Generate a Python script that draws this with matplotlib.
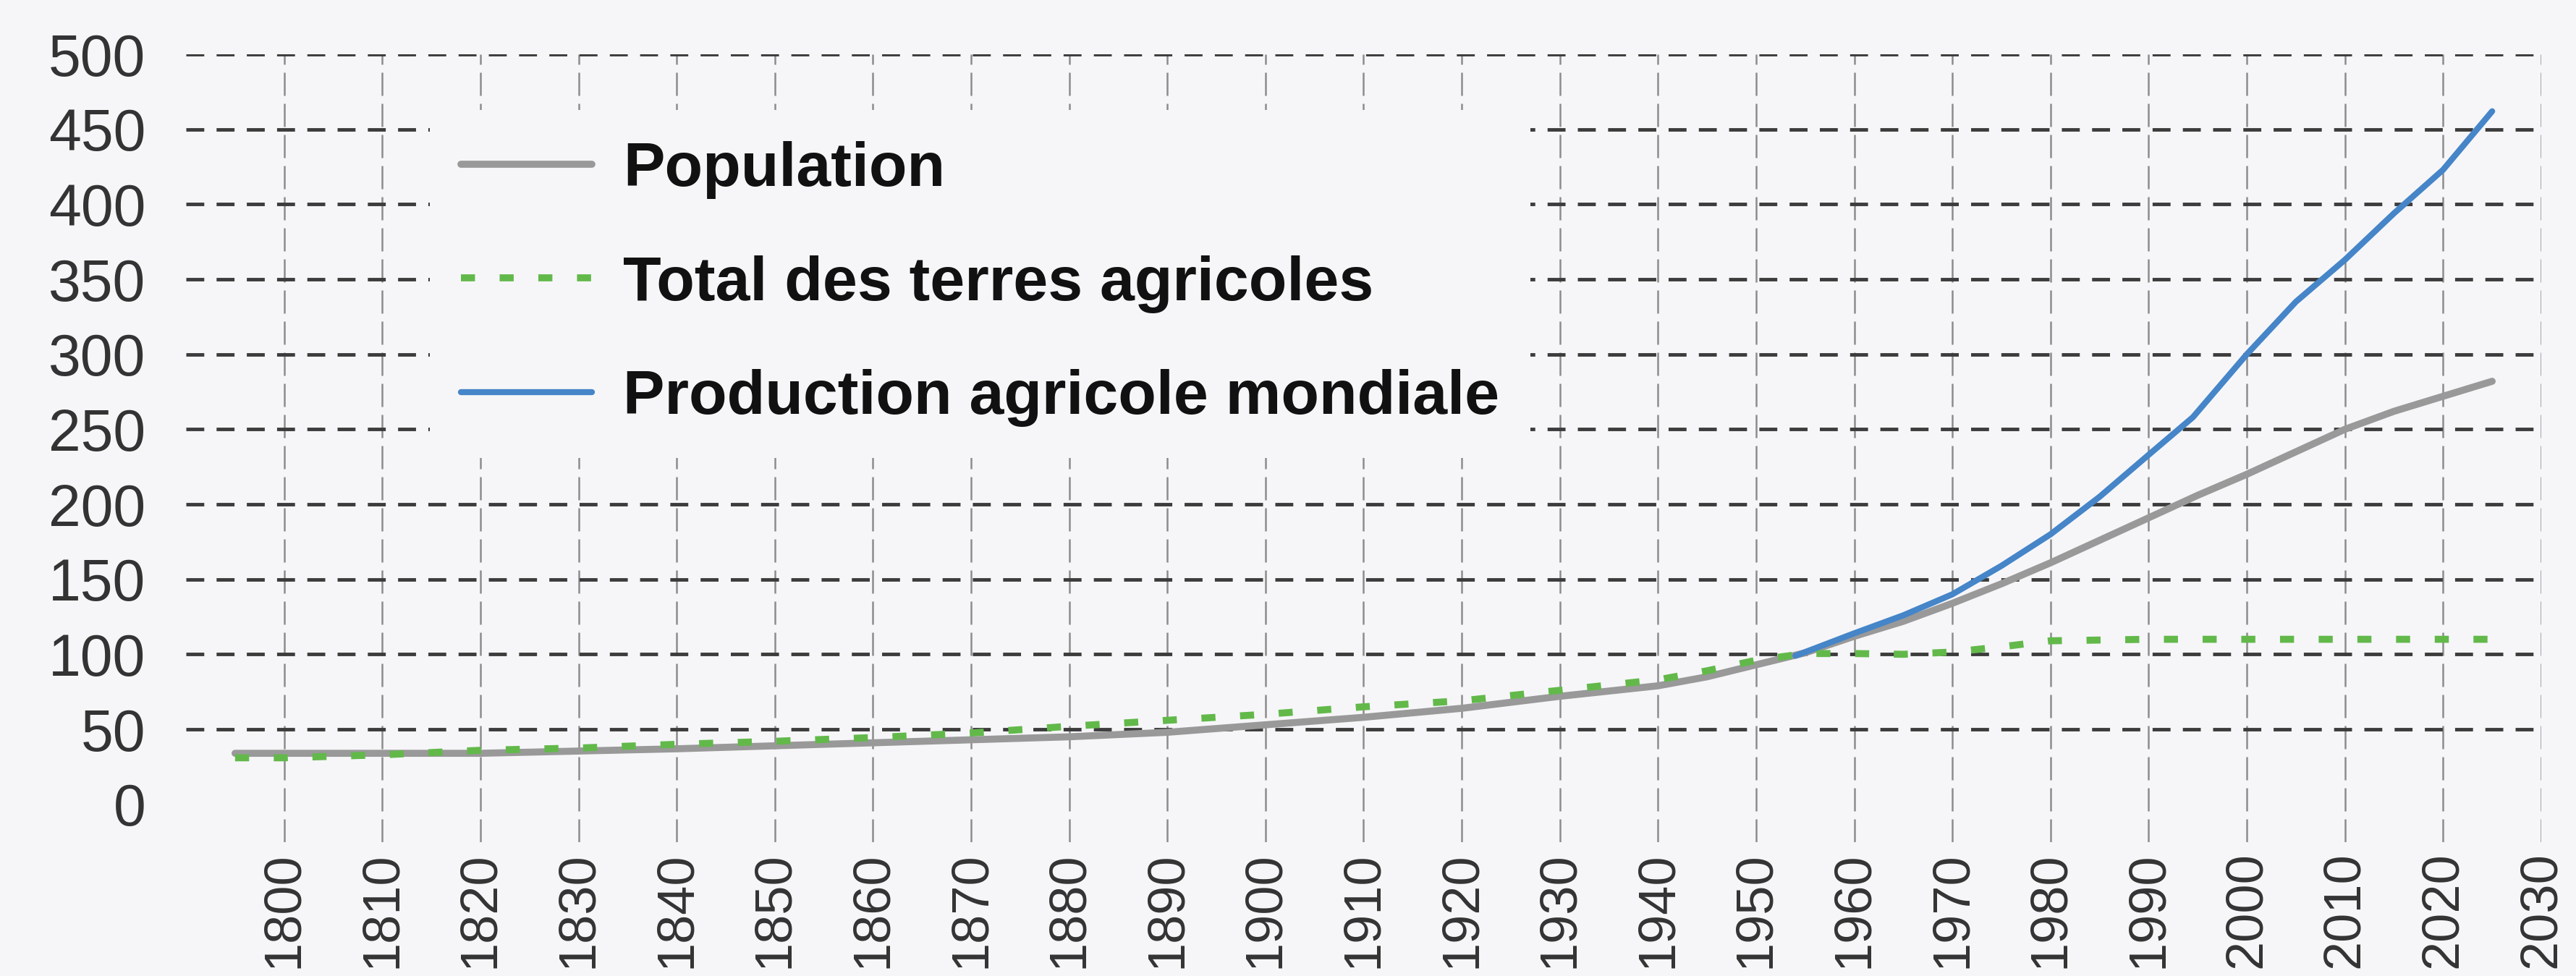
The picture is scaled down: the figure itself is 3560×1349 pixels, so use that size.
import matplotlib.pyplot as plt

# index values (base ~100 around 1955)
years_pop = [1795, 1800, 1820, 1840, 1860, 1880, 1890, 1900, 1910, 1920, 1930,
             1940, 1945, 1950, 1955, 1960, 1965, 1970, 1975, 1980, 1985, 1990,
             1995, 2000, 2005, 2010, 2015, 2020, 2025]
population = [34, 34, 34, 37, 41, 45, 48, 53, 58, 64, 72,
              79, 85, 93, 101, 112, 122, 134, 147, 161, 176, 191,
              206, 220, 235, 250, 262, 272, 282]

years_land = [1795, 1800, 1810, 1820, 1830, 1840, 1850, 1860, 1870, 1880, 1890,
              1900, 1910, 1920, 1930, 1940, 1945, 1950, 1955, 1960, 1965, 1970,
              1975, 1980, 1990, 2000, 2010, 2025]
land = [31, 31, 33, 36, 37.5, 40, 42, 44.5, 47.5, 52, 56,
        60, 65, 69, 76, 83, 89, 96, 100.5, 100.5, 100, 101.5,
        105, 109, 110, 110, 110, 110]

years_prod = [1954, 1960, 1965, 1970, 1975, 1980, 1985, 1990, 1994.5, 2000,
              2005, 2010, 2015, 2020, 2025]
production = [99, 114, 126, 140, 159, 180, 205, 233, 258, 300,
              335, 363, 394, 423, 462]

labels = ["Population", "Total des terres agricoles", "Production agricole mondiale"]
xticks = list(range(1800, 2031, 10))
yticks = list(range(0, 501, 50))

bg = "#f6f6f9"
plt.rcParams['font.family'] = ['Liberation Sans', 'DejaVu Sans']

fig = plt.figure(figsize=(35.6, 13.49), dpi=100, facecolor=bg)
ax = fig.add_axes([0.0722, 0.1375, 0.9143, 0.8069])
ax.set_facecolor(bg)

ax.plot(years_pop, population, color="#999999", lw=7, solid_capstyle="round", label=labels[0], zorder=3)
ax.plot(years_land, land, color="#62b94a", lw=7, linestyle=(0, (2.0, 3.5)), label=labels[1], zorder=4)
ax.plot(years_prod, production, color="#4585c8", lw=6, solid_capstyle="round", label=labels[2], zorder=5)

ax.set_xlim(1790, 2030)
ax.set_ylim(-25, 500)
ax.set_xticks(xticks)
ax.set_yticks(yticks)
ax.set_xticklabels([str(x) for x in xticks], rotation=90, fontsize=52, color="#333333")
ax.set_yticklabels([str(y) for y in yticks], fontsize=58, color="#333333")
ax.tick_params(axis="both", length=0)
ax.tick_params(axis="y", pad=40)
ax.tick_params(axis="x", pad=10)

for s in ax.spines.values():
    s.set_visible(False)

ax.grid(axis="x", color="#8c8c8c", lw=1.8, linestyle=(0, (12.8, 4.4)), zorder=1)
ax.grid(axis="y", color="#3c3c3c", lw=3.5, linestyle=(0, (5.1, 3.5)), zorder=1)
ax.yaxis.get_gridlines()[0].set_visible(False)
ax.set_axisbelow(True)

leg = ax.legend(loc="upper left", bbox_to_anchor=(594 / 3560, 1 - 152 / 1349),
                bbox_transform=fig.transFigure, borderaxespad=0,
                frameon=True, facecolor=bg, edgecolor="none", framealpha=1,
                fancybox=False, handlelength=2.1, handletextpad=0.5,
                labelspacing=0.9, borderpad=0.5,
                prop={"weight": "bold", "size": 62})
for t in leg.get_texts():
    t.set_color("#111111")

fig.savefig("out.png", dpi=100, facecolor=bg)
